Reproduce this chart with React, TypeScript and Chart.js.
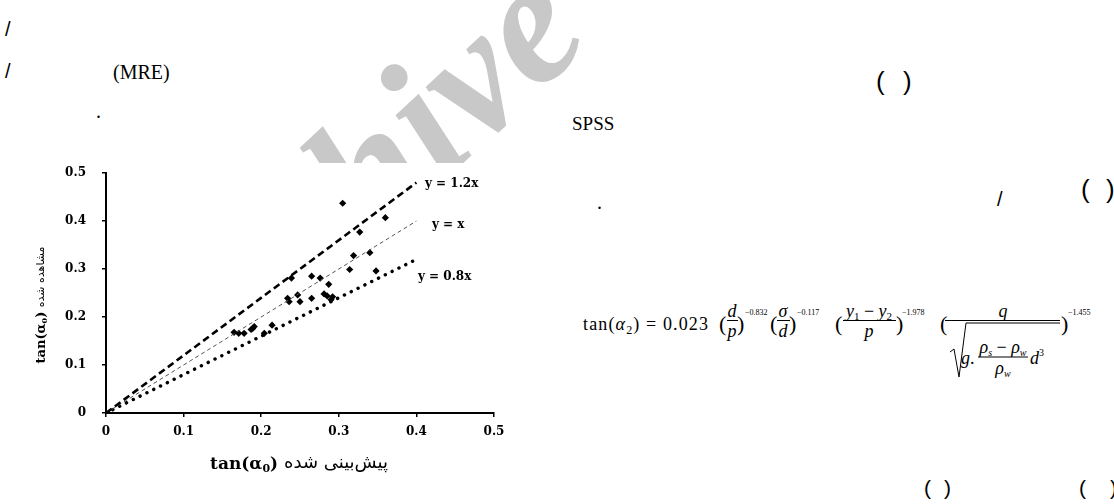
import React, { useEffect, useRef } from "react";
import { Chart, registerables } from "chart.js";

Chart.register(...registerables);

// ---- data ----
const predicted = [
  0.305, 0.36, 0.327, 0.319, 0.34, 0.314, 0.348, 0.239, 0.265, 0.276, 0.287,
  0.234, 0.236, 0.247, 0.25, 0.265, 0.281, 0.285, 0.292, 0.29,
  0.165, 0.171, 0.178, 0.187, 0.189, 0.191, 0.204, 0.214,
];
const observed = [
  0.437, 0.407, 0.377, 0.328, 0.334, 0.299, 0.296, 0.281, 0.285, 0.281, 0.268,
  0.239, 0.232, 0.246, 0.232, 0.239, 0.248, 0.244, 0.242, 0.236,
  0.168, 0.166, 0.166, 0.174, 0.176, 0.18, 0.166, 0.183,
];
const refX = [0, 0.4];
const ref12 = [0, 0.48];
const ref10 = [0, 0.4];
const ref08 = [0, 0.32];
const xTicks = [0, 0.1, 0.2, 0.3, 0.4, 0.5];
const yTicks = [0, 0.1, 0.2, 0.3, 0.4, 0.5];
const lineLabels = ["y = 1.2x", "y = x", "y = 0.8x"];
const lineLabelX = [0.411, 0.42, 0.402];
const lineLabelY = [0.477, 0.392, 0.283];
const xTitlePersian = "پیش‌بینی شده";
const yTitlePersian = "مشاهده شده";

function drawTitle(
  ctx: CanvasRenderingContext2D,
  cx: number,
  cy: number,
  rot: number,
  main: number,
  pers: number,
  persian: string
) {
  ctx.save();
  ctx.translate(cx, cy);
  ctx.rotate(rot);
  ctx.textBaseline = "alphabetic";
  ctx.textAlign = "left";
  const fMain = `bold ${main}px "DejaVu Serif"`;
  const fSub = `bold ${Math.round(main * 0.62)}px "DejaVu Serif"`;
  const fPers = `${pers}px "DejaVu Sans"`;
  ctx.font = fMain;
  const w1 = ctx.measureText("tan(α").width;
  const w3 = ctx.measureText(")").width;
  ctx.font = fSub;
  const w2 = ctx.measureText("0").width;
  ctx.font = fPers;
  const w4 = ctx.measureText(persian).width;
  const gap = main * 0.35;
  const total = w1 + w2 + w3 + gap + w4;
  let x = -total / 2;
  const base = main * 0.35;
  ctx.fillStyle = "#000";
  ctx.font = fMain;
  ctx.fillText("tan(α", x, base);
  x += w1;
  ctx.font = fSub;
  ctx.fillText("0", x, base + main * 0.18);
  x += w2;
  ctx.font = fMain;
  ctx.fillText(")", x, base);
  x += w3 + gap;
  ctx.font = fPers;
  ctx.direction = "rtl";
  ctx.textAlign = "right";
  ctx.fillText(persian, x + w4, base - 1);
  ctx.restore();
}

const annotations = {
  id: "annotations",
  afterDraw(chart: any) {
    const { ctx, scales } = chart;
    const x = scales.x;
    const y = scales.y;
    ctx.save();
    ctx.fillStyle = "#000";
    ctx.font = 'bold 12px "DejaVu Serif"';
    ctx.textBaseline = "middle";
    ctx.textAlign = "left";
    lineLabels.forEach((t, i) => {
      ctx.fillText(t, x.getPixelForValue(lineLabelX[i]), y.getPixelForValue(lineLabelY[i]));
    });
    ctx.restore();
    drawTitle(ctx, (x.left + x.right) / 2 - 1, y.bottom + 50, 0, 17, 18, xTitlePersian);
    drawTitle(ctx, 40, (y.top + y.bottom) / 2 + 12, -Math.PI / 2, 13, 11, yTitlePersian);
  },
};

const tickFont = { family: "DejaVu Serif", size: 12, weight: "bold" as const };

export default function App() {
  const ref = useRef<HTMLCanvasElement | null>(null);
  useEffect(() => {
    document.body.style.margin = "0";
    const canvas = ref.current!;
    const pts = predicted.map((v, i) => ({ x: v, y: observed[i] }));
    const chart = new Chart(canvas, {
      type: "scatter",
      data: {
        datasets: [
          {
            type: "line",
            data: refX.map((v, i) => ({ x: v, y: ref12[i] })),
            borderColor: "#000",
            borderWidth: 2.6,
            borderDash: [7, 4],
            pointRadius: 0,
            fill: false,
          } as any,
          {
            type: "line",
            data: refX.map((v, i) => ({ x: v, y: ref10[i] })),
            borderColor: "#555",
            borderWidth: 1,
            borderDash: [4, 3],
            pointRadius: 0,
            fill: false,
          } as any,
          {
            type: "line",
            data: refX.map((v, i) => ({ x: v, y: ref08[i] })),
            borderColor: "#000",
            borderWidth: 3.4,
            borderDash: [0.1, 7.5],
            borderCapStyle: "round",
            pointRadius: 0,
            fill: false,
          } as any,
          {
            data: pts,
            pointStyle: "rectRot",
            pointRadius: 3.6,
            backgroundColor: "#000",
            borderColor: "#000",
            borderWidth: 0,
          },
        ],
      },
      options: {
        responsive: false,
        animation: false,
        events: [],
        layout: { padding: { left: 0, top: 173, right: 620, bottom: 0 } },
        plugins: { legend: { display: false }, tooltip: { enabled: false } },
        scales: {
          x: {
            type: "linear",
            min: 0,
            max: 0.5,
            afterBuildTicks: (s: any) => {
              s.ticks = xTicks.map((v) => ({ value: v }));
            },
            afterFit: (s: any) => {
              s.height = 91;
            },
            ticks: {
              font: tickFont,
              color: "#000",
              padding: 8,
              maxRotation: 0,
              callback: (v: any) => (Number(v) === 0 ? "0" : Number(v).toFixed(1)),
            },
            grid: { drawOnChartArea: false, drawTicks: true, tickLength: 4, color: "#000", lineWidth: 1.5 },
            border: { color: "#000", width: 2 },
          },
          y: {
            type: "linear",
            min: 0,
            max: 0.5,
            afterBuildTicks: (s: any) => {
              s.ticks = yTicks.map((v) => ({ value: v }));
            },
            afterFit: (s: any) => {
              s.width = 106;
            },
            ticks: {
              font: tickFont,
              color: "#000",
              padding: 16,
              callback: (v: any) => (Number(v) === 0 ? "0" : Number(v).toFixed(1)),
            },
            grid: { drawOnChartArea: false, drawTicks: true, tickLength: 4, color: "#000", lineWidth: 1.5 },
            border: { color: "#000", width: 2 },
          },
        },
      },
      plugins: [annotations],
    });
    return () => chart.destroy();
  }, []);

  const serif = "'Liberation Serif', 'Times New Roman', serif";
  const sans = "'Liberation Sans', Arial, sans-serif";
  const T = (p: any) => (
    <text fontSize={18} fill="#000" {...p} style={{ fontFamily: serif }} />
  );
  const P = (p: any) => (
    <text fontSize={22} fill="#000" {...p} style={{ fontFamily: serif }} />
  );

  return (
    <div style={{ position: "relative", width: 1114, height: 504, overflow: "hidden", background: "#fff" }}>
      <svg width={1114} height={504} style={{ position: "absolute", left: 0, top: 0 }}>
        {/* watermark */}
        <text
          x={177}
          y={430}
          fontFamily={serif}
          fontWeight="bold"
          fontStyle="italic"
          fontSize={177}
          fill="#c8c8c8"
          transform="rotate(-43 177 430)"
        >
          Archive
        </text>
        <rect x={15} y={163} width={515} height={341} fill="#fff" />
        {/* page text */}
        <text x={5} y={36} fontFamily={sans} fontSize={20}>/</text>
        <text x={5} y={78} fontFamily={sans} fontSize={20}>/</text>
        <text x={113} y={79} fontFamily={serif} fontSize={20}>(MRE)</text>
        <text x={96} y={118} fontFamily={serif} fontSize={20}>.</text>
        <text x={876} y={90} fontFamily={sans} fontSize={26}>(</text>
        <text x={903} y={90} fontFamily={sans} fontSize={26}>)</text>
        <text x={572} y={130} fontFamily={serif} fontSize={19}>SPSS</text>
        <text x={597} y={209} fontFamily={serif} fontSize={20}>.</text>
        <text x={997} y={206} fontFamily={sans} fontSize={20}>/</text>
        <text x={1081} y={198} fontFamily={sans} fontSize={26}>(</text>
        <text x={1106} y={198} fontFamily={sans} fontSize={26}>)</text>
        <text x={924} y={495} fontFamily={sans} fontSize={21}>(</text>
        <text x={944} y={495} fontFamily={sans} fontSize={21}>)</text>
        <text x={1079} y={495} fontFamily={sans} fontSize={21}>(</text>
        <text x={1110} y={495} fontFamily={sans} fontSize={21}>)</text>
        {/* formula */}
        <T x={583} y={330} textLength={125} lengthAdjust="spacing">
          tan(<tspan fontStyle="italic">α</tspan>
          <tspan fontSize={12} dy={4}>2</tspan>
          <tspan dy={-4}>) = 0.023</tspan>
        </T>
        <P x={719} y={331}>(</P>
        <T x={732} y={317} fontStyle="italic" textAnchor="middle">d</T>
        <line x1={727} x2={738} y1={320.5} y2={320.5} stroke="#000" strokeWidth={1} />
        <T x={732} y={337} fontStyle="italic" textAnchor="middle">p</T>
        <P x={737} y={331}>)</P>
        <T x={745} y={315} fontSize={8}>−0.832</T>

        <P x={770} y={331}>(</P>
        <T x={783} y={317} fontStyle="italic" textAnchor="middle">σ</T>
        <line x1={777} x2={790} y1={320.5} y2={320.5} stroke="#000" strokeWidth={1} />
        <T x={783} y={337} fontStyle="italic" textAnchor="middle">d</T>
        <P x={789} y={331}>)</P>
        <T x={797} y={315} fontSize={8}>−0.117</T>

        <P x={835} y={331}>(</P>
        <T x={869} y={317} textAnchor="middle">
          <tspan fontStyle="italic">y</tspan>
          <tspan fontSize={11} dy={3}>1</tspan>
          <tspan dy={-3}> − </tspan>
          <tspan fontStyle="italic">y</tspan>
          <tspan fontSize={11} dy={3}>2</tspan>
        </T>
        <line x1={843} x2={896} y1={320.5} y2={320.5} stroke="#000" strokeWidth={1} />
        <T x={869} y={337} fontStyle="italic" textAnchor="middle">p</T>
        <P x={896} y={331}>)</P>
        <T x={902} y={315} fontSize={8}>−1.978</T>

        <P x={940} y={331}>(</P>
        <T x={1003} y={317} fontStyle="italic" textAnchor="middle">q</T>
        <line x1={945} x2={1060} y1={320.5} y2={320.5} stroke="#000" strokeWidth={1} />
        <polyline points="950,352 954,349 959,377 966,323 1060,323" fill="none" stroke="#000" strokeWidth={1} />
        <T x={961} y={364}>
          <tspan fontStyle="italic">g</tspan>.
        </T>
        <T x={1003} y={353} textAnchor="middle">
          <tspan fontStyle="italic">ρ</tspan>
          <tspan fontSize={10} dy={3} fontStyle="italic">s</tspan>
          <tspan dy={-3}> − </tspan>
          <tspan fontStyle="italic">ρ</tspan>
          <tspan fontSize={10} dy={3} fontStyle="italic">w</tspan>
        </T>
        <line x1={978} x2={1028} y1={357} y2={357} stroke="#000" strokeWidth={1} />
        <T x={1003} y={374} textAnchor="middle">
          <tspan fontStyle="italic">ρ</tspan>
          <tspan fontSize={10} dy={3} fontStyle="italic">w</tspan>
        </T>
        <T x={1030} y={364}>
          <tspan fontStyle="italic">d</tspan>
          <tspan fontSize={10} dy={-8}>3</tspan>
        </T>
        <P x={1061} y={331}>)</P>
        <T x={1068} y={315} fontSize={8}>−1.455</T>
      </svg>
      <canvas
        ref={ref}
        width={1114}
        height={504}
        style={{ position: "absolute", left: 0, top: 0, width: 1114, height: 504 }}
      />
    </div>
  );
}
